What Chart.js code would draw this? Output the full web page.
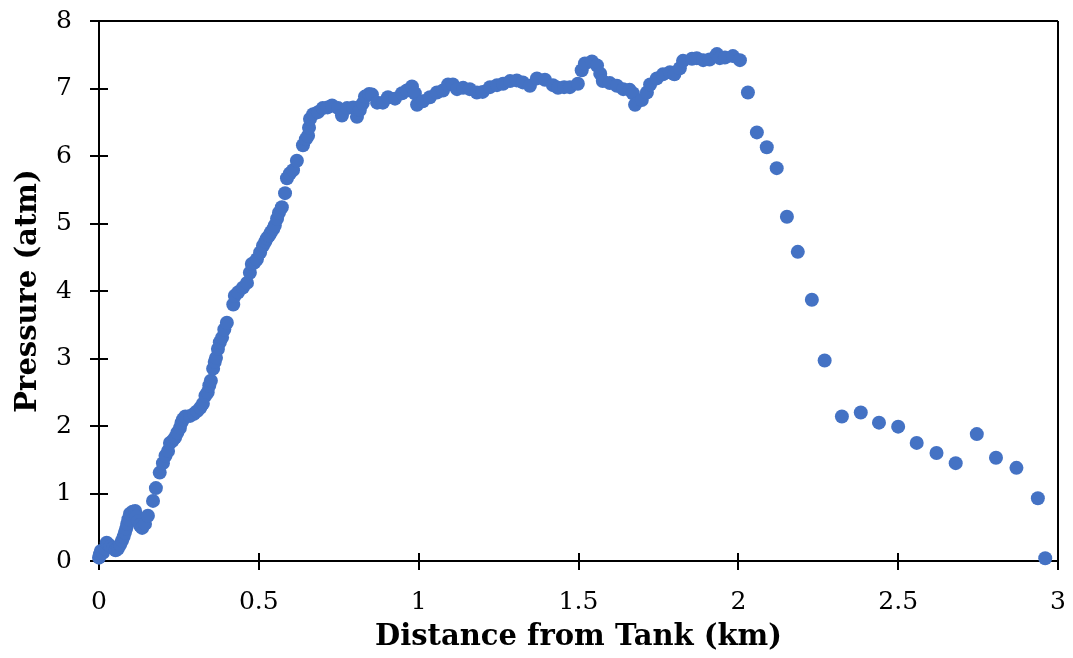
<!DOCTYPE html>
<html><head><meta charset="utf-8">
<script src="https://cdn.jsdelivr.net/npm/chart.js@4/dist/chart.umd.min.js"></script>
<style>html,body{margin:0;padding:0;background:#fff}#wrap{width:1073px;height:658px}</style>
</head><body><div id="wrap"><canvas id="c" width="1073" height="658"></canvas></div>
<script>
const distanceKm = [
0.000,0.003,0.006,0.012,0.019,0.024,0.028,0.036,0.044,0.052,0.059,0.066,0.072,0.077,0.081,0.085,0.088,0.092,0.097,0.105,
0.113,0.117,0.122,0.128,0.135,0.144,0.153,0.169,0.178,0.190,0.200,0.208,0.216,0.222,0.230,0.238,0.245,0.253,0.258,0.263,
0.270,0.285,0.297,0.307,0.317,0.325,0.333,0.340,0.345,0.350,0.357,0.362,0.366,0.372,0.378,0.385,0.392,0.400,0.420,0.425,
0.435,0.450,0.463,0.472,0.478,0.486,0.494,0.504,0.513,0.520,0.525,0.532,0.538,0.545,0.550,0.557,0.563,0.572,0.582,0.588,
0.597,0.607,0.619,0.638,0.647,0.654,0.657,0.660,0.670,0.685,0.700,0.715,0.729,0.748,0.760,0.776,0.795,0.807,0.816,0.825,
0.832,0.845,0.854,0.870,0.888,0.904,0.926,0.948,0.963,0.979,0.988,0.995,1.013,1.035,1.057,1.076,1.092,1.107,1.120,1.139,
1.160,1.182,1.200,1.223,1.245,1.264,1.286,1.307,1.326,1.348,1.370,1.395,1.420,1.436,1.455,1.473,1.498,1.510,1.520,1.542,
1.558,1.568,1.576,1.598,1.620,1.640,1.660,1.670,1.677,1.698,1.714,1.724,1.745,1.764,1.786,1.800,1.817,1.827,1.855,1.870,
1.890,1.910,1.933,1.942,1.958,1.983,2.005,
2.030,2.058,2.089,2.120,2.152,2.186,2.230,2.270,2.324,2.383,2.440,2.500,2.558,2.620,2.680,2.746,2.806,2.870,2.937,2.960
];
const pressureAtm = [
0.05,0.10,0.15,0.12,0.18,0.27,0.25,0.22,0.19,0.16,0.18,0.24,0.30,0.36,0.42,0.48,0.55,0.62,0.70,0.73,
0.74,0.66,0.59,0.53,0.49,0.55,0.67,0.89,1.08,1.31,1.45,1.56,1.63,1.75,1.78,1.83,1.90,1.97,2.05,2.10,
2.14,2.15,2.18,2.22,2.27,2.33,2.45,2.50,2.60,2.67,2.85,2.95,3.01,3.14,3.24,3.31,3.43,3.53,3.80,3.93,
3.98,4.05,4.12,4.27,4.40,4.42,4.47,4.57,4.67,4.73,4.78,4.82,4.87,4.92,4.97,5.07,5.16,5.24,5.45,5.67,
5.74,5.79,5.93,6.16,6.25,6.30,6.42,6.55,6.62,6.65,6.71,6.72,6.75,6.71,6.60,6.71,6.72,6.58,6.68,6.78,
6.88,6.92,6.91,6.79,6.79,6.87,6.85,6.93,6.97,7.03,6.93,6.76,6.81,6.87,6.94,6.97,7.06,7.06,6.99,7.01,
6.99,6.94,6.95,7.02,7.05,7.07,7.11,7.12,7.09,7.04,7.15,7.13,7.05,7.01,7.02,7.02,7.07,7.27,7.37,7.40,
7.34,7.22,7.11,7.08,7.04,6.99,6.98,6.93,6.76,6.83,6.94,7.06,7.15,7.21,7.24,7.21,7.30,7.41,7.44,7.45,
7.42,7.43,7.51,7.45,7.46,7.48,7.42,
6.94,6.35,6.13,5.82,5.10,4.58,3.87,2.97,2.14,2.20,2.05,1.99,1.75,1.60,1.45,1.88,1.53,1.38,0.93,0.04
];
const xTickValues = [0, 0.5, 1, 1.5, 2, 2.5, 3];
const yTickValues = [0, 1, 2, 3, 4, 5, 6, 7, 8];
const xTitle = 'Distance from Tank (km)';
const yTitle = 'Pressure (atm)';

const points = distanceKm.map((x, i) => ({x: x, y: pressureAtm[i]}));
const FONT = "'DejaVu Serif', 'Liberation Serif', serif";

const frame = {
  id: 'frame',
  beforeDatasetsDraw(chart) {
    const {ctx, chartArea: a, scales: {x, y}} = chart;
    ctx.save();
    ctx.strokeStyle = '#000';
    ctx.lineWidth = 2;
    ctx.beginPath();
    ctx.moveTo(a.left, a.top); ctx.lineTo(a.right, a.top);
    ctx.moveTo(a.right, a.top); ctx.lineTo(a.right, a.bottom);
    xTickValues.forEach(v => { const p = Math.round(x.getPixelForValue(v)); ctx.moveTo(p, a.bottom); ctx.lineTo(p, a.bottom - 8); });
    yTickValues.forEach(v => { const p = Math.round(y.getPixelForValue(v)); ctx.moveTo(a.left, p); ctx.lineTo(a.left + 9, p); });
    ctx.stroke();
    ctx.restore();
  }
};

new Chart(document.getElementById('c'), {
  type: 'scatter',
  data: { datasets: [{ data: points, backgroundColor: '#4472C4', borderWidth: 0, pointRadius: 7, pointHoverRadius: 7, clip: false }] },
  options: {
    responsive: false, animation: false, devicePixelRatio: 1,
    layout: { padding: { top: 21, right: 15, left: 0, bottom: 0 } },
    plugins: { legend: { display: false }, tooltip: { enabled: false } },
    scales: {
      x: {
        type: 'linear', min: 0, max: 3,
        afterBuildTicks: s => { s.ticks = xTickValues.map(v => ({value: v})); },
        afterFit: s => { s.height = 97; s.paddingLeft = 0; s.paddingRight = 0; },
        ticks: { color: '#000', font: { family: FONT, size: 25 }, padding: 17, maxRotation: 0, callback: v => String(v) },
        grid: { drawOnChartArea: false, tickLength: 9, color: '#000', lineWidth: 2 },
        border: { color: '#000', width: 2 },
        title: { display: true, text: xTitle, color: '#000', font: { family: FONT, size: 29, weight: 'bold' }, padding: { top: 0, bottom: 3 } }
      },
      y: {
        type: 'linear', min: 0, max: 8,
        afterBuildTicks: s => { s.ticks = yTickValues.map(v => ({value: v})); },
        afterFit: s => { s.width = 99; s.paddingTop = 0; s.paddingBottom = 0; },
        ticks: { color: '#000', font: { family: FONT, size: 25 }, padding: 18, callback: v => String(v) },
        grid: { drawOnChartArea: false, tickLength: 9, color: '#000', lineWidth: 2 },
        border: { color: '#000', width: 2 },
        title: { display: true, text: yTitle, color: '#000', font: { family: FONT, size: 29, weight: 'bold' }, padding: { top: 11, bottom: 0 } }
      }
    }
  },
  plugins: [frame]
});
</script></body></html>
